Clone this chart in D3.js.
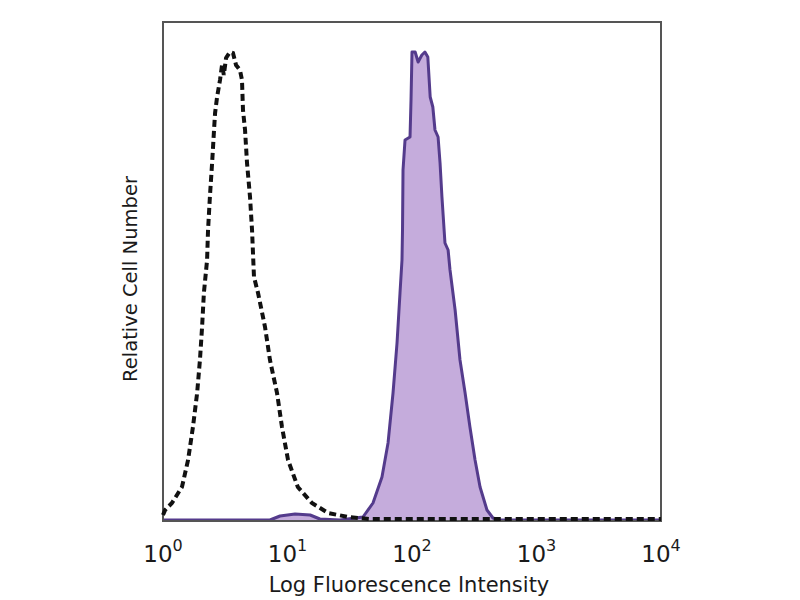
<!DOCTYPE html>
<html><head><meta charset="utf-8">
<script src="https://cdn.jsdelivr.net/npm/d3@7"></script>
<style>body{margin:0;background:#fff}svg{display:block}</style>
</head><body>
<svg id="chart" width="800" height="600"></svg>
<script>
// Isotype control (dashed) – fluorescence intensity and relative count
const isoX = [1.00,1.04,1.18,1.42,1.59,1.74,1.88,1.98,2.06,2.13,2.26,2.30,2.38,2.48,2.57,2.62,2.72,2.87,2.98,3.08,3.21,3.45,3.65,3.86,4.15,4.31,4.39,4.56,4.73,5.00,5.19,5.38,5.80,6.60,7.23,8.24,9.03,10.1,12.1,15.7,21.2,30.6,46.0,10000];
const isoY = [1,2,3.4,6.6,12,18.6,25.4,32,38.6,45.4,52,58,64.6,71.4,78,81.4,84.6,88,91,89,92.4,93.6,93.4,91,90,88,82,78,71.4,64.6,58,48.6,45.4,38.6,32,25.4,18.6,12,6.6,3.4,1.4,0.6,0.2,0.2];
// Stained sample (filled purple)
const stX = [1.00,7.23,8.71,11.5,15.2,18.2,26.4,40.4,48.6,57.4,64.2,70.4,75.8,80.1,83.1,83.9,84.7,87.9,96.4,98.2,100,106,112,120,127,134,140,147,153,162,168,174,184,195,202,222,243,267,292,321,352,400,447,509,10000];
const stY = [0,0,0.8,1.2,1.0,0.2,0,0.6,3.4,8.6,15.4,25.4,35.4,45.4,52,58,70,76,76.6,84,93.6,93.6,91.6,93,93.6,92.6,84.6,82.6,78,76.6,71.4,64.6,55.4,54,50,42,32,25.4,18.6,12,6.6,2,0.4,0,0];
const tickVals = [1,10,100,1000,10000];
const tickExps = ["0","1","2","3","4"];
const xTitle = "Log Fluorescence Intensity";
const yTitle = "Relative Cell Number";

const svg = d3.select("#chart");
const L = 163, R = 661, T = 22, B = 521;
const x = d3.scaleLog().domain([1,10000]).range([L,R]);
const y = d3.scaleLinear().domain([0,100]).range([520,20]);

const iso = isoX.map((v,i)=>[v,isoY[i]]);
const st = stX.map((v,i)=>[v,stY[i]]);

svg.append("path").datum(st)
  .attr("d", d3.area().x(d=>x(d[0])).y0(y(0)).y1(d=>y(d[1])))
  .attr("fill","#c5acdc");
svg.append("path").datum(st)
  .attr("d", d3.line().x(d=>x(d[0])).y(d=>y(d[1])))
  .attr("fill","none").attr("stroke","#543b8c").attr("stroke-width",3).attr("stroke-linejoin","round");

svg.append("rect").attr("x",L).attr("y",T).attr("width",R-L).attr("height",B-T)
  .attr("fill","none").attr("stroke","#555").attr("stroke-width",2);

svg.append("path").datum(iso)
  .attr("d", d3.line().x(d=>x(d[0])).y(d=>y(d[1])))
  .attr("fill","none").attr("stroke","#111").attr("stroke-width",4)
  .attr("stroke-dasharray","7,4");

const tl = svg.append("g").attr("font-family","DejaVu Sans, sans-serif").attr("fill","#1a1a1a");
tickVals.forEach((v,i)=>{
  const t = tl.append("text").attr("x",x(v)).attr("y",562).attr("text-anchor","middle").attr("font-size",23);
  t.append("tspan").text("10");
  t.append("tspan").attr("font-size",16).attr("dy",-11).text(tickExps[i]);
});

svg.append("text").attr("x",409).attr("y",592).attr("text-anchor","middle")
  .attr("font-family","DejaVu Sans, sans-serif").attr("font-size",21).attr("fill","#1a1a1a").text(xTitle);
svg.append("text").attr("transform","translate(137,279) rotate(-90)").attr("text-anchor","middle")
  .attr("font-family","DejaVu Sans, sans-serif").attr("font-size",19.5).attr("fill","#1a1a1a").text(yTitle);
</script>
</body></html>
